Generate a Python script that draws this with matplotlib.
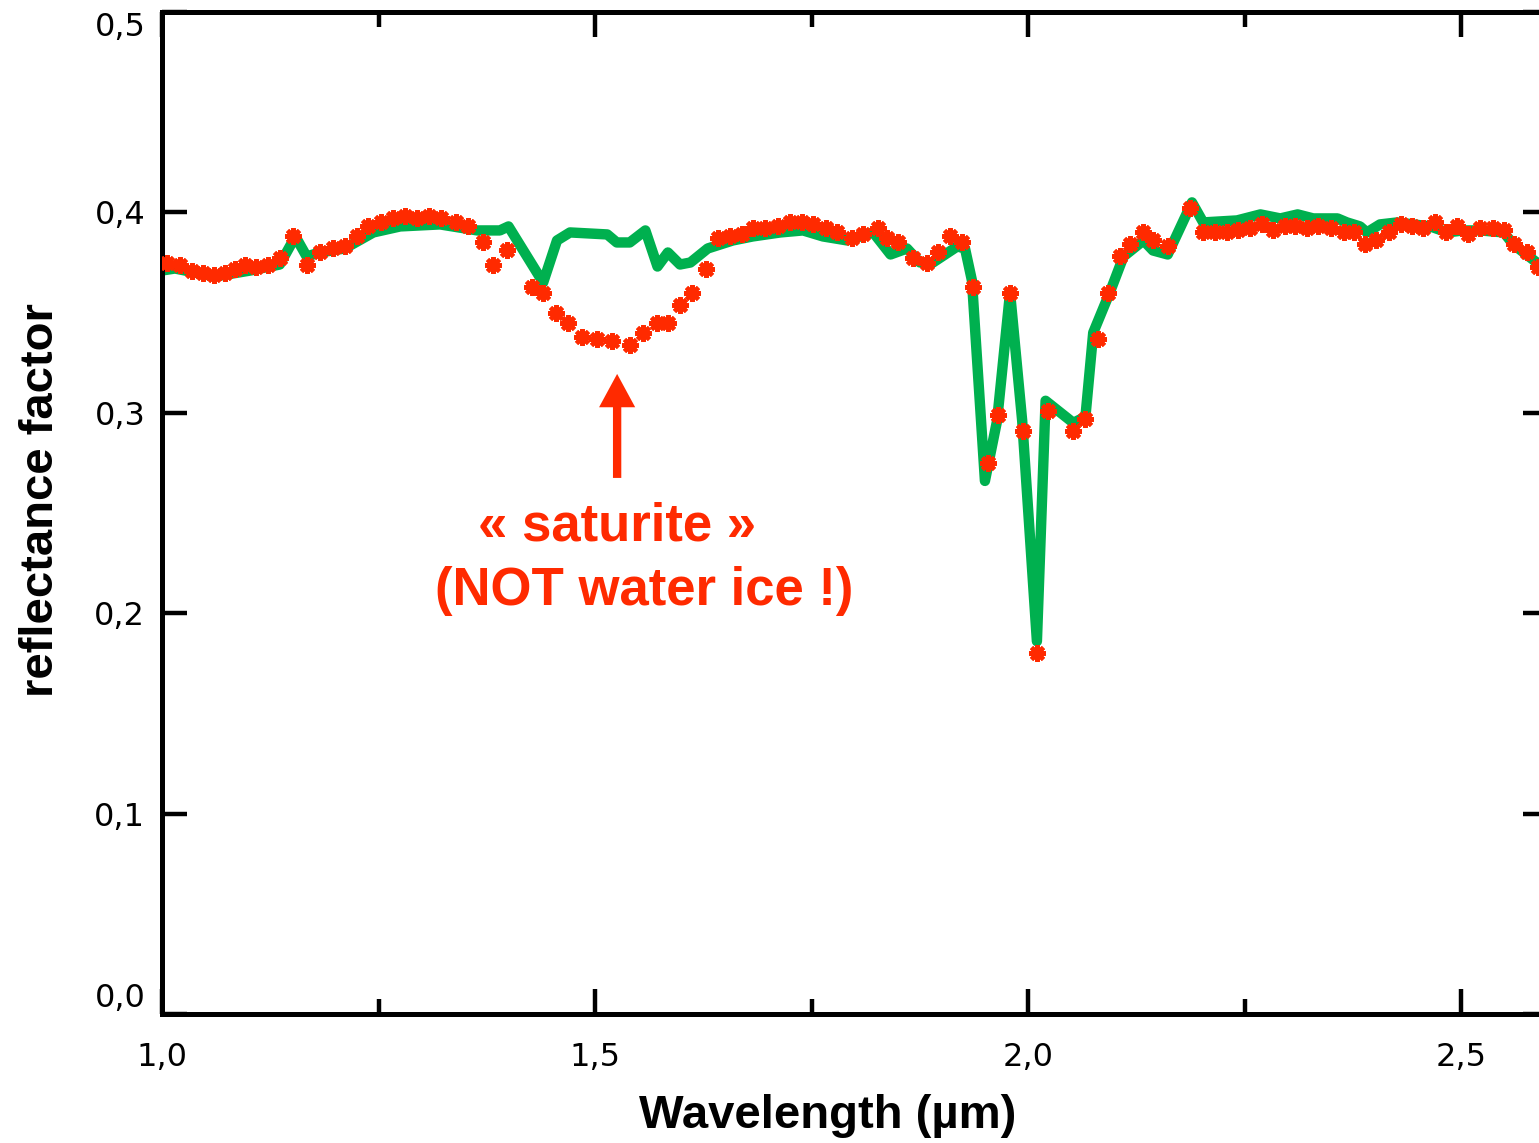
import matplotlib
matplotlib.use('Agg')
import matplotlib.pyplot as plt
from matplotlib.ticker import MultipleLocator, FuncFormatter

# measured spectrum (red asterisks)
wl_meas = [1.006, 1.021, 1.035, 1.047, 1.060, 1.073, 1.084, 1.096, 1.109, 1.122,
           1.136, 1.151, 1.167, 1.182, 1.197, 1.211, 1.225, 1.238, 1.253, 1.267,
           1.281, 1.294, 1.308, 1.322, 1.339, 1.353, 1.370, 1.382, 1.398, 1.427,
           1.440, 1.455, 1.469, 1.485, 1.502, 1.520, 1.540, 1.555, 1.572, 1.584,
           1.598, 1.612, 1.628, 1.642, 1.656, 1.669, 1.682, 1.696, 1.711, 1.725,
           1.739, 1.752, 1.766, 1.779, 1.797, 1.809, 1.826, 1.837, 1.850, 1.867,
           1.883, 1.896, 1.910, 1.924, 1.936, 1.953, 1.965, 1.979, 1.994, 2.010,
           2.023, 2.052, 2.066, 2.080, 2.092, 2.106, 2.118, 2.132, 2.144, 2.161,
           2.187, 2.202, 2.216, 2.230, 2.242, 2.256, 2.270, 2.283, 2.296, 2.308,
           2.322, 2.335, 2.349, 2.364, 2.376, 2.389, 2.402, 2.416, 2.430, 2.443,
           2.456, 2.469, 2.482, 2.495, 2.508, 2.522, 2.536, 2.549, 2.561, 2.576,
           2.588]
refl_meas = [0.375, 0.374, 0.371, 0.370, 0.369, 0.370, 0.372, 0.374, 0.373, 0.374,
             0.377, 0.388, 0.374, 0.380, 0.382, 0.383, 0.388, 0.393, 0.395, 0.397,
             0.398, 0.397, 0.398, 0.397, 0.395, 0.393, 0.385, 0.374, 0.381, 0.363,
             0.360, 0.350, 0.345, 0.338, 0.337, 0.336, 0.334, 0.340, 0.345, 0.345,
             0.354, 0.360, 0.372, 0.387, 0.388, 0.389, 0.392, 0.392, 0.393, 0.395,
             0.395, 0.394, 0.392, 0.390, 0.387, 0.389, 0.392, 0.387, 0.385, 0.377,
             0.375, 0.380, 0.388, 0.385, 0.363, 0.275, 0.299, 0.360, 0.291, 0.180,
             0.301, 0.291, 0.297, 0.337, 0.360, 0.378, 0.384, 0.390, 0.386, 0.383,
             0.402, 0.390, 0.390, 0.390, 0.391, 0.392, 0.394, 0.391, 0.393, 0.393,
             0.392, 0.393, 0.392, 0.390, 0.390, 0.384, 0.386, 0.390, 0.394, 0.393,
             0.392, 0.395, 0.390, 0.393, 0.389, 0.392, 0.392, 0.391, 0.384, 0.380,
             0.373]

# model spectrum (green line)
wl_model = [1.000, 1.015, 1.061, 1.102, 1.136, 1.154, 1.167, 1.182, 1.211, 1.244,
            1.275, 1.321, 1.364, 1.390, 1.400, 1.440, 1.456, 1.471, 1.514, 1.525,
            1.540, 1.558, 1.572, 1.584, 1.598, 1.610, 1.630, 1.659, 1.682, 1.714,
            1.740, 1.763, 1.791, 1.821, 1.841, 1.860, 1.875, 1.890, 1.918, 1.927,
            1.935, 1.950, 1.964, 1.979, 1.993, 2.010, 2.020, 2.052, 2.066, 2.075,
            2.095, 2.110, 2.133, 2.144, 2.161, 2.189, 2.202, 2.241, 2.268, 2.291,
            2.311, 2.329, 2.357, 2.368, 2.383, 2.391, 2.406, 2.426, 2.445, 2.464,
            2.484, 2.502, 2.522, 2.549, 2.560, 2.590]
refl_model = [0.371, 0.372, 0.368, 0.371, 0.374, 0.388, 0.378, 0.380, 0.382, 0.390,
              0.393, 0.394, 0.391, 0.391, 0.393, 0.365, 0.386, 0.390, 0.389, 0.385,
              0.385, 0.391, 0.373, 0.380, 0.374, 0.375, 0.382, 0.386, 0.388, 0.390,
              0.391, 0.388, 0.386, 0.390, 0.379, 0.382, 0.375, 0.375, 0.383, 0.382,
              0.366, 0.266, 0.296, 0.360, 0.296, 0.186, 0.306, 0.295, 0.298, 0.340,
              0.361, 0.378, 0.386, 0.381, 0.379, 0.405, 0.395, 0.396, 0.399, 0.397,
              0.399, 0.397, 0.397, 0.395, 0.393, 0.390, 0.394, 0.395, 0.394, 0.393,
              0.390, 0.391, 0.391, 0.390, 0.384, 0.374]

y_ticks = [0.0, 0.1, 0.2, 0.3, 0.4, 0.5]

GREEN = '#00b04f'
RED = '#ff2a00'

fig = plt.figure(figsize=(15.39, 11.43), dpi=100)
ax = fig.add_axes([162 / 1539, 129 / 1143, 1386 / 1539, 1002 / 1143])

ax.plot(wl_model, refl_model, color=GREEN, lw=7.5, solid_joinstyle='round', zorder=2)
ax.plot(wl_meas, refl_meas, ls='none', marker=(8, 2, 0), ms=12, mew=3,
        color=RED, zorder=3)

ax.set_xlim(1.0, 2.6)
ax.set_ylim(0.0, 0.5)

ax.xaxis.set_major_locator(MultipleLocator(0.5))
ax.xaxis.set_minor_locator(MultipleLocator(0.25))
ax.set_yticks(y_ticks)
comma = FuncFormatter(lambda v, p: ('%.1f' % v).replace('.', ','))
ax.xaxis.set_major_formatter(comma)
ax.yaxis.set_major_formatter(comma)

ax.tick_params(which='both', direction='in', top=True, right=True, width=3.2)
ax.tick_params(which='major', length=18, labelsize=23)
ax.tick_params(which='minor', length=11)
ax.tick_params(axis='x', pad=20)
ax.tick_params(axis='y', pad=12)
for s in ax.spines.values():
    s.set_linewidth(3.6)

# end labels pushed inward like the original IDL plot
fig.canvas.draw()
for tick in ax.yaxis.get_major_ticks():
    if abs(tick.get_loc() - 0.0) < 1e-9:
        tick.label1.set_va('bottom')
    elif abs(tick.get_loc() - 0.5) < 1e-9:
        tick.label1.set_va('top')

# annotation
ax.annotate('', xy=(1.5254, 0.3194), xytext=(1.5254, 0.2675),
            arrowprops=dict(arrowstyle='simple,head_length=2.4,head_width=2.6,tail_width=0.6',
                            mutation_scale=10, fc=RED, ec='none', lw=0,
                            shrinkA=0, shrinkB=0))
ax.text(1.5254, 0.2365, '« saturite »', color=RED, fontsize=38, fontweight='bold',
        family='Liberation Sans', ha='center', va='baseline')
ax.text(1.5566, 0.2041, '(NOT water ice !)', color=RED, fontsize=38, fontweight='bold',
        family='Liberation Sans', ha='center', va='baseline')

fig.text(828 / 1539, 15 / 1143, 'Wavelength (µm)', fontsize=34, fontweight='bold',
         family='Liberation Sans', ha='center', va='baseline')
fig.text(41 / 1539, 643 / 1143, 'reflectance factor', fontsize=34, fontweight='bold',
         family='Liberation Sans', ha='center', va='center', rotation=90)

fig.savefig('out.png', dpi=100)
